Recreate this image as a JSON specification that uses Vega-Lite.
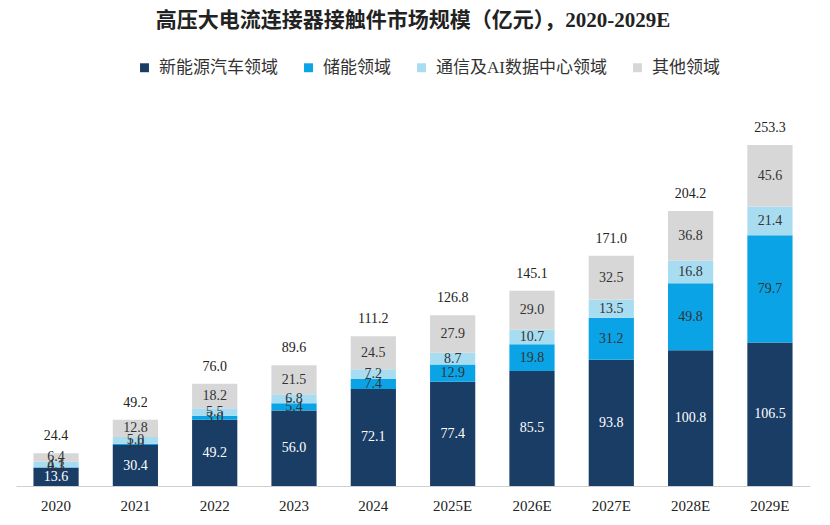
{
  "$schema": "https://vega.github.io/schema/vega-lite/v6.json",
  "autosize": {"type": "none"},
  "width": 794,
  "height": 377,
  "padding": {"left": 16, "top": 109, "right": 20, "bottom": 39},
  "background": "white",
  "config": {"view": {"stroke": null}},
  "title": {
    "text": "高压大电流连接器接触件市场规模（亿元），2020-2029E",
    "font": "Liberation Serif, Noto Sans CJK SC",
    "fontSize": 21,
    "fontWeight": "bold",
    "color": "#222222",
    "anchor": "middle",
    "offset": 28
  },
  "datasets": {
    "seg": [
      {"year": "2020", "series": "新能源汽车领域", "v": 13.6},
      {"year": "2020", "series": "储能领域", "v": 0.3},
      {"year": "2020", "series": "通信及AI数据中心领域", "v": 4.1},
      {"year": "2020", "series": "其他领域", "v": 6.4},
      {"year": "2021", "series": "新能源汽车领域", "v": 30.4},
      {"year": "2021", "series": "储能领域", "v": 1.0},
      {"year": "2021", "series": "通信及AI数据中心领域", "v": 5.0},
      {"year": "2021", "series": "其他领域", "v": 12.8},
      {"year": "2022", "series": "新能源汽车领域", "v": 49.2},
      {"year": "2022", "series": "储能领域", "v": 3.0},
      {"year": "2022", "series": "通信及AI数据中心领域", "v": 5.5},
      {"year": "2022", "series": "其他领域", "v": 18.2},
      {"year": "2023", "series": "新能源汽车领域", "v": 56.0},
      {"year": "2023", "series": "储能领域", "v": 5.4},
      {"year": "2023", "series": "通信及AI数据中心领域", "v": 6.8},
      {"year": "2023", "series": "其他领域", "v": 21.5},
      {"year": "2024", "series": "新能源汽车领域", "v": 72.1},
      {"year": "2024", "series": "储能领域", "v": 7.4},
      {"year": "2024", "series": "通信及AI数据中心领域", "v": 7.2},
      {"year": "2024", "series": "其他领域", "v": 24.5},
      {"year": "2025E", "series": "新能源汽车领域", "v": 77.4},
      {"year": "2025E", "series": "储能领域", "v": 12.9},
      {"year": "2025E", "series": "通信及AI数据中心领域", "v": 8.7},
      {"year": "2025E", "series": "其他领域", "v": 27.9},
      {"year": "2026E", "series": "新能源汽车领域", "v": 85.5},
      {"year": "2026E", "series": "储能领域", "v": 19.8},
      {"year": "2026E", "series": "通信及AI数据中心领域", "v": 10.7},
      {"year": "2026E", "series": "其他领域", "v": 29.0},
      {"year": "2027E", "series": "新能源汽车领域", "v": 93.8},
      {"year": "2027E", "series": "储能领域", "v": 31.2},
      {"year": "2027E", "series": "通信及AI数据中心领域", "v": 13.5},
      {"year": "2027E", "series": "其他领域", "v": 32.5},
      {"year": "2028E", "series": "新能源汽车领域", "v": 100.8},
      {"year": "2028E", "series": "储能领域", "v": 49.8},
      {"year": "2028E", "series": "通信及AI数据中心领域", "v": 16.8},
      {"year": "2028E", "series": "其他领域", "v": 36.8},
      {"year": "2029E", "series": "新能源汽车领域", "v": 106.5},
      {"year": "2029E", "series": "储能领域", "v": 79.7},
      {"year": "2029E", "series": "通信及AI数据中心领域", "v": 21.4},
      {"year": "2029E", "series": "其他领域", "v": 45.6}
    ],
    "tot": [
      {"year": "2020", "total": 24.4},
      {"year": "2021", "total": 49.2},
      {"year": "2022", "total": 76.0},
      {"year": "2023", "total": 89.6},
      {"year": "2024", "total": 111.2},
      {"year": "2025E", "total": 126.8},
      {"year": "2026E", "total": 145.1},
      {"year": "2027E", "total": 171.0},
      {"year": "2028E", "total": 204.2},
      {"year": "2029E", "total": 253.3}
    ]
  },
  "encoding": {
    "x": {
      "field": "year",
      "type": "nominal",
      "sort": null,
      "scale": {"paddingInner": 0.43, "paddingOuter": 0.22},
      "axis": {
        "title": null,
        "labelAngle": 0,
        "labelFont": "Liberation Serif",
        "labelFontSize": 15,
        "labelColor": "#222222",
        "labelPadding": 12,
        "ticks": false,
        "domainColor": "#d0d0d0",
        "domainWidth": 1
      }
    }
  },
  "layer": [
    {
      "data": {"name": "seg"},
      "transform": [
        {"calculate": "indexof(['新能源汽车领域','储能领域','通信及AI数据中心领域','其他领域'], datum.series)", "as": "o"},
        {"stack": "v", "groupby": ["year"], "sort": [{"field": "o", "order": "ascending"}], "as": ["v0", "v1"]}
      ],
      "mark": {"type": "bar"},
      "encoding": {
        "y": {"field": "v0", "type": "quantitative", "scale": {"domain": [0, 280]}, "axis": null},
        "y2": {"field": "v1"},
        "color": {
          "field": "series",
          "type": "nominal",
          "scale": {
            "domain": ["新能源汽车领域", "储能领域", "通信及AI数据中心领域", "其他领域"],
            "range": ["#1a3d66", "#0aa4e6", "#a8dcf0", "#d7d7d7"]
          },
          "legend": {
            "title": null,
            "orient": "none",
            "legendX": 120,
            "legendY": -50,
            "direction": "horizontal",
            "symbolType": "square",
            "symbolSize": 80,
            "symbolStrokeWidth": 0,
            "labelFont": "Liberation Serif, Noto Sans CJK SC",
            "labelFontSize": 17,
            "labelColor": "#333333",
            "labelLimit": 0,
            "columnPadding": 22,
            "labelOffset": 6
          }
        }
      }
    },
    {
      "data": {"name": "seg"},
      "transform": [
        {"calculate": "indexof(['新能源汽车领域','储能领域','通信及AI数据中心领域','其他领域'], datum.series)", "as": "o"},
        {"stack": "v", "groupby": ["year"], "sort": [{"field": "o", "order": "ascending"}], "as": ["v0", "v1"]},
        {"calculate": "(datum.v0 + datum.v1) / 2", "as": "vm"}
      ],
      "mark": {"type": "text", "font": "Liberation Serif", "fontSize": 14, "baseline": "middle"},
      "encoding": {
        "y": {"field": "vm", "type": "quantitative", "scale": {"domain": [0, 280]}},
        "text": {"field": "v", "type": "quantitative", "format": ".1f"},
        "color": {
          "condition": {"test": "datum.series === '新能源汽车领域'", "value": "#ffffff"},
          "value": "#333333"
        }
      }
    },
    {
      "data": {"name": "tot"},
      "mark": {"type": "text", "font": "Liberation Serif", "fontSize": 14, "baseline": "bottom", "dy": -10, "color": "#222222"},
      "encoding": {
        "y": {"field": "total", "type": "quantitative", "scale": {"domain": [0, 280]}},
        "text": {"field": "total", "type": "quantitative", "format": ".1f"}
      }
    }
  ]
}
